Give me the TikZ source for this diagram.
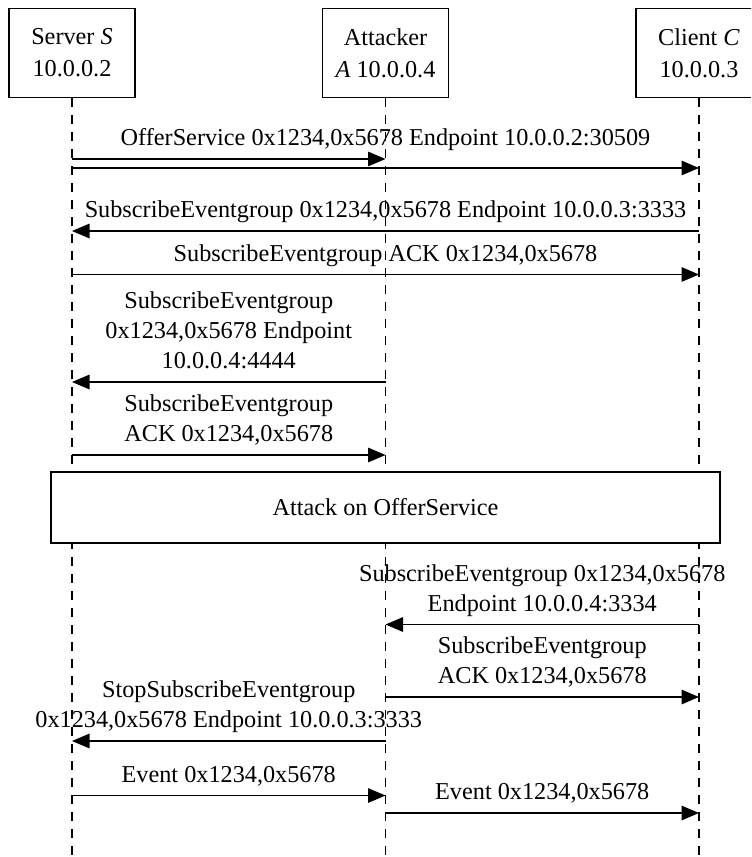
\documentclass[tikz,border=0pt]{standalone}
\usepackage{fontspec}
\setmainfont{Liberation Serif}
\usetikzlibrary{arrows.meta}
\begin{document}
\begin{tikzpicture}[x=0.4pt,y=-0.4pt,
  font=\fontsize{9.7}{12}\selectfont,
  party/.style={draw, line width=0.6pt, fill=white, minimum width=50.4pt,
    minimum height=35.6pt, align=center, inner sep=0pt,
    font=\fontsize{9.7}{12.8}\selectfont},
  lifeline/.style={line width=0.45pt, dash pattern=on 3.6pt off 3.2pt},
  msg/.style={line width=0.6pt, -{Triangle[length=7pt,width=5.8pt]}},
  lbl/.style={above, inner sep=2.8pt, text depth=2.2pt, align=center},
  phase/.style={draw, line width=0.6pt, fill=white, minimum width=267.6pt,
    minimum height=28.4pt, inner sep=0pt},
]
\useasboundingbox (0,0) rectangle (751,857);
\clip (0,0) rectangle (751,857);

% participants
\node[party] (S) at (72,53) {Server \textit{S}\\10.0.0.2};
\node[party] (A) at (385.5,53) {Attacker\\\textit{A} 10.0.0.4};
\node[party] (C) at (699,53) {Client \textit{C}\\10.0.0.3};
\coordinate (bottom) at (0,857);

% lifelines
\draw[lifeline] (S.south) -- (S |- bottom);
\draw[lifeline] (A.south) -- (A |- bottom);
\draw[lifeline] (C.south) -- (C |- bottom);

% service discovery
\draw[msg] (S |- 0,159) -- (A |- 0,159);
\draw[msg] (S |- 0,168) -- (C |- 0,168)
  node[lbl, midway, yshift=3.6pt] {OfferService 0x1234,0x5678 Endpoint 10.0.0.2:30509};
\draw[msg] (C |- 0,231) -- (S |- 0,231)
  node[lbl, midway] {SubscribeEventgroup 0x1234,0x5678 Endpoint 10.0.0.3:3333};
\draw[msg] (S |- 0,274.5) -- (C |- 0,274.5)
  node[lbl, midway] {SubscribeEventgroup ACK 0x1234,0x5678};
\draw[msg] (A |- 0,382) -- (S |- 0,382)
  node[lbl, midway] {SubscribeEventgroup\\0x1234,0x5678 Endpoint\\10.0.0.4:4444};
\draw[msg] (S |- 0,455) -- (A |- 0,455)
  node[lbl, midway] {SubscribeEventgroup\\ACK 0x1234,0x5678};

% attack phase
\node[phase] (attack) at (385.5,507.5) {Attack on OfferService};

\draw[msg] (C |- 0,624.5) -- (A |- 0,624.5)
  node[lbl, midway] {SubscribeEventgroup 0x1234,0x5678\\Endpoint 10.0.0.4:3334};
\draw[msg] (A |- 0,697) -- (C |- 0,697)
  node[lbl, midway] {SubscribeEventgroup\\ACK 0x1234,0x5678};
\draw[msg] (A |- 0,741) -- (S |- 0,741)
  node[lbl, midway] {StopSubscribeEventgroup\\0x1234,0x5678 Endpoint 10.0.0.3:3333};
\draw[msg] (S |- 0,795.5) -- (A |- 0,795.5)
  node[lbl, midway] {Event 0x1234,0x5678};
\draw[msg] (A |- 0,813) -- (C |- 0,813)
  node[lbl, midway] {Event 0x1234,0x5678};
\end{tikzpicture}
\end{document}
